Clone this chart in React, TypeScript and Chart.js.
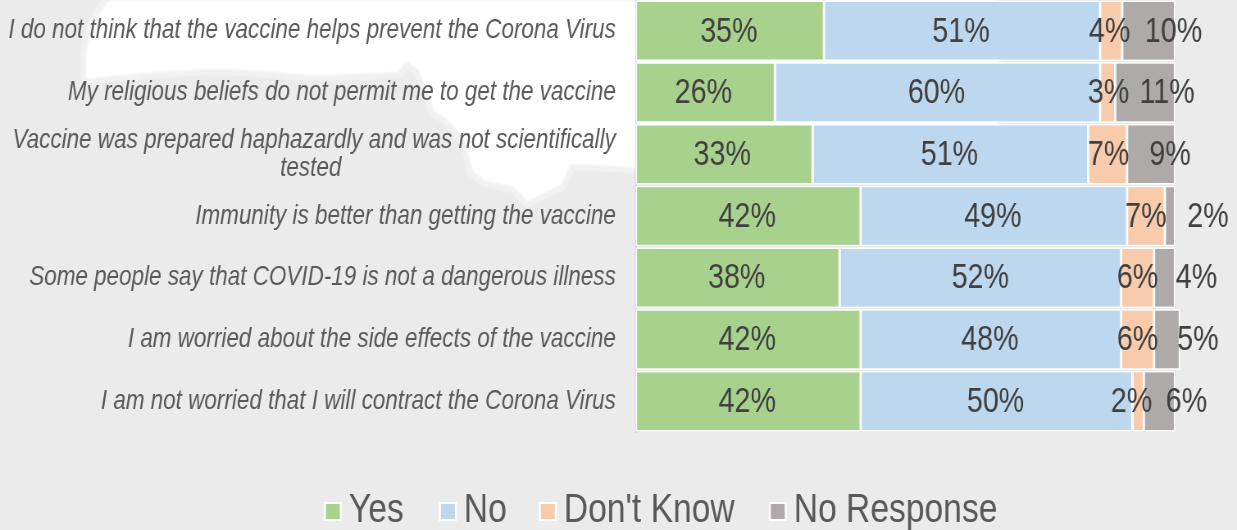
import React, { useEffect, useRef } from "react";
import { Chart, registerables } from "chart.js";

Chart.register(...registerables);

const categories: string[][] = [
  ["I do not think that the vaccine helps prevent the Corona Virus"],
  ["My religious beliefs do not permit me to get the vaccine"],
  ["Vaccine was prepared haphazardly and was not scientifically", "tested"],
  ["Immunity is better than getting the vaccine"],
  ["Some people say that COVID-19 is not a dangerous illness"],
  ["I am worried about the side effects of the vaccine"],
  ["I am not worried that I will contract the Corona Virus"],
];
const yes = [34.9, 25.8, 32.8, 41.7, 37.8, 41.7, 41.7];
const no = [51.2, 60.3, 51.1, 49.4, 52.2, 48.3, 50.4];
const dontKnow = [4.1, 2.8, 7.2, 7.0, 6.1, 6.1, 2.1];
const noResponse = [9.8, 11.1, 8.9, 1.9, 3.9, 4.8, 5.8];

const seriesNames = ["Yes", "No", "Don't Know", "No Response"];
const seriesValues = [yes, no, dontKnow, noResponse];
const seriesColors = ["#A9D18E", "#BDD7EE", "#F8CBAD", "#AEAAAA"];

// The reference is a horizontally squeezed picture: the canvas is drawn wider and shown at 1237px.
const SQUEEZE = 0.82;
const W = Math.round(1237 / SQUEEZE);
const px = (v: number) => v / SQUEEZE;

// Hand-placed label shifts in the original chart (screen px from the segment centre)
const labelNudge = [
  [-1, -2, -2, -1, -1, -1, -1],
  [-1, -1, -1, -1, 0, -1, -1],
  [-1.5, 1, 1, 0, 0, 0, -6.5],
  [25, 22, 19, 38, 32, 31, 27],
];
const legendX = [326, 441, 541, 771];

const FONT = '"Liberation Sans", Arial, sans-serif';

const segmentLabels = {
  id: "segmentLabels",
  afterDatasetsDraw(chart: any) {
    const { ctx } = chart;
    ctx.save();
    ctx.font = `35px ${FONT}`;
    ctx.fillStyle = "#404040";
    ctx.textAlign = "center";
    ctx.textBaseline = "middle";
    chart.data.datasets.forEach((ds: any, d: number) => {
      chart.getDatasetMeta(d).data.forEach((bar: any, i: number) => {
        const p = bar.getProps(["x", "y", "base"], true);
        ctx.fillText(`${Math.round(ds.data[i])}%`, (p.x + p.base) / 2 + px(labelNudge[d][i]), p.y + 1);
      });
    });
    ctx.restore();
  },
};

const bottomLegend = {
  id: "bottomLegend",
  afterDraw(chart: any) {
    const { ctx } = chart;
    ctx.save();
    ctx.font = `41px ${FONT}`;
    ctx.textAlign = "left";
    ctx.textBaseline = "middle";
    chart.data.datasets.forEach((ds: any, d: number) => {
      const x = legendX[d];
      ctx.fillStyle = "#ffffff";
      ctx.fillRect(px(x - 2), 502, px(18), 19);
      ctx.fillStyle = ds.backgroundColor;
      ctx.fillRect(px(x), 504, px(14), 15);
      ctx.fillStyle = "#595959";
      ctx.fillText(ds.label, px(x + 23), 511);
    });
    ctx.restore();
  },
};

export default function App() {
  const ref = useRef<HTMLCanvasElement>(null);
  useEffect(() => {
    document.body.style.margin = "0";
    document.body.style.background = "#EBEBEB";
    const chart = new Chart(ref.current!, {
      type: "bar",
      data: {
        labels: categories as any,
        datasets: seriesNames.map((label, i) => ({
          label,
          data: seriesValues[i],
          backgroundColor: seriesColors[i],
          borderColor: "#ffffff",
          borderWidth: { left: 1.5, right: 1.5, top: 1.5, bottom: 1.5 },
          borderSkipped: false,
          barPercentage: 0.98,
          categoryPercentage: 1,
          clip: false as any,
        })),
      },
      options: {
        indexAxis: "y",
        animation: false,
        responsive: false,
        devicePixelRatio: 1,
        layout: { padding: { left: 0, right: px(62), top: 0, bottom: 98 } },
        plugins: { legend: { display: false }, tooltip: { enabled: false } },
        scales: {
          x: { stacked: true, min: 0, max: 100, display: false },
          y: {
            stacked: true,
            afterFit: (s: any) => {
              s.width = px(636);
              s.paddingTop = 0;
              s.paddingBottom = 0;
            },
            grid: { display: false, drawTicks: false },
            border: { display: true, color: "#D4D4D4", width: 2 },
            ticks: {
              padding: px(20),
              autoSkip: false,
              color: "#595959",
              font: { family: FONT, size: 27.4, style: "italic", lineHeight: 1.02 },
              callback(this: any, _v: any, i: number) {
                const lines = categories[i];
                return lines.length > 1 ? [lines[0], lines[1] + " ".repeat(44)] : lines[0];
              },
            },
          },
        },
      },
      plugins: [segmentLabels, bottomLegend],
    } as any);
    return () => chart.destroy();
  }, []);

  return (
    <div style={{ position: "absolute", left: 0, top: 0, width: 1237, height: 530, background: "#EBEBEB", overflow: "hidden" }}>
      <svg width={1237} height={530} style={{ position: "absolute", left: 0, top: 0, filter: "blur(1px)" }}>
        <path
          d="M110 -5 C95 10 84 35 83 60 L83 82 C120 78 170 74 210 72 C250 72 280 76 310 78 C340 78 380 76 400 75 L407 65 L417 73 L432 113 L447 123 L463 143 L470 173 L483 183 L513 190 L527 205 L563 187 L573 167 L633 170 L1000 175 L1000 -5 Z"
          fill="#ffffff"
          stroke="#F1F1F1"
          strokeWidth={6}
          strokeLinejoin="round"
        />
      </svg>
      <canvas ref={ref} width={W} height={530} style={{ position: "absolute", left: 0, top: 0, width: 1237, height: 530 }} />
    </div>
  );
}
